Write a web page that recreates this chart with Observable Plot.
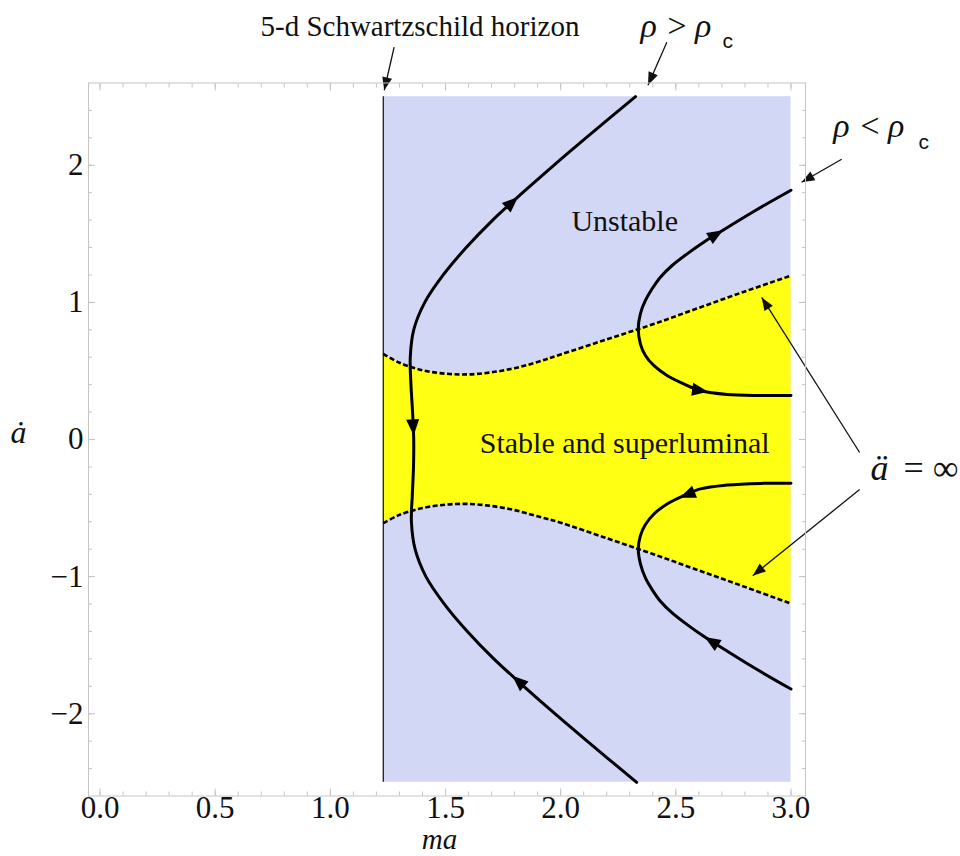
<!DOCTYPE html>
<html>
<head>
<meta charset="utf-8">
<script src="https://cdn.jsdelivr.net/npm/d3@7"></script>
<script src="https://cdn.jsdelivr.net/npm/@observablehq/plot@0.6"></script>
<style>
  body { margin: 0; background: #fff; }
  #chart svg { display: block; }
</style>
</head>
<body>
<div id="chart"></div>
<script>
// Phase-plane region: brane position ma (horizon to 3) against velocity ȧ
const horizonMa = 1.23;
const regionMa = [1.23, 3.0];
const regionAdot = [-2.5, 2.5];

// Boundary where ä diverges (dashed): upper and lower branches
const boundaryMa    = [1.23, 1.3, 1.4, 1.5, 1.6, 1.7, 1.8, 1.9, 2.0, 2.2, 2.4, 2.6, 2.8, 3.0];
const boundaryUpper = [0.625, 0.56, 0.505, 0.48, 0.475, 0.49, 0.52, 0.565, 0.62, 0.73, 0.84, 0.96, 1.08, 1.195];
const boundaryLower = [-0.61, -0.55, -0.5, -0.475, -0.47, -0.485, -0.515, -0.56, -0.607, -0.72, -0.835, -0.955, -1.075, -1.197];

// Trajectory for ρ > ρc (passes close to the horizon)
const superMa   = [2.33, 2.115, 1.975, 1.84, 1.71, 1.595, 1.495, 1.415, 1.368, 1.352, 1.356, 1.361, 1.362, 1.357, 1.35, 1.347, 1.362, 1.41, 1.49, 1.59, 1.705, 1.835, 1.97, 2.11, 2.325];
const superAdot = [-2.5, -2.2, -2.0, -1.8, -1.6, -1.4, -1.2, -1.0, -0.8, -0.6, -0.4, -0.2, 0, 0.2, 0.4, 0.6, 0.8, 1.0, 1.2, 1.4, 1.6, 1.8, 2.0, 2.2, 2.5];

// Trajectories for ρ < ρc (turn back at the ä = ∞ boundary)
const subUpperMa   = [3.0, 2.84, 2.679, 2.621, 2.549, 2.484, 2.433, 2.397, 2.368, 2.346, 2.337, 2.346, 2.368, 2.404, 2.462, 2.534, 2.607, 2.723, 2.868, 3.0];
const subUpperAdot = [1.818, 1.665, 1.5, 1.439, 1.354, 1.269, 1.184, 1.099, 1.014, 0.917, 0.807, 0.698, 0.613, 0.54, 0.467, 0.406, 0.357, 0.328, 0.321, 0.321];
const subLowerMa   = [3.0, 2.87, 2.723, 2.607, 2.534, 2.462, 2.404, 2.368, 2.346, 2.337, 2.346, 2.368, 2.397, 2.433, 2.484, 2.549, 2.621, 2.679, 2.84, 3.0];
const subLowerAdot = [-0.319, -0.32, -0.332, -0.36, -0.41, -0.47, -0.545, -0.62, -0.703, -0.80, -0.905, -1.01, -1.095, -1.18, -1.265, -1.35, -1.435, -1.497, -1.665, -1.82];

// Flow direction heads on the trajectories: tail point → tip point
const flowFromMa   = [1.77, 1.358, 1.835, 2.665, 2.60, 2.56, 2.665];
const flowFromAdot = [1.70, 0.13, -1.79, 1.486, 0.359, -0.395, -1.482];
const flowToMa     = [1.815, 1.362, 1.79, 2.705, 2.64, 2.517, 2.625];
const flowToAdot   = [1.769, 0.03, -1.723, 1.527, 0.349, -0.424, -1.44];

// Annotation pointers: tail point → tip point
const noteFromMa   = [1.277, 2.461, 3.220, 3.298, 3.298];
const noteFromAdot = [2.861, 2.898, 2.044, -0.095, -0.365];
const noteToMa     = [1.234, 2.379, 3.046, 2.873, 2.834];
const noteToAdot   = [2.547, 2.584, 1.876, 1.036, -0.993];

// Axis ticks
const xMajor = [0, 0.5, 1, 1.5, 2, 2.5, 3];
const yMajor = [-2, -1, 0, 1, 2];
const xMinor = d3.range(0, 31).map(i => i / 10);
const yMinor = d3.range(-12, 13).map(i => i / 5);

const serif = "'Liberation Serif', 'Times New Roman', serif";
const blue = "#d2d7f6";
const yellow = "#ffff14";
const frameGray = "#c4c4c4";

const boundary = boundaryMa.map((ma, i) => ({ma, upper: boundaryUpper[i], lower: boundaryLower[i]}));
const pts = (xs, ys) => xs.map((x, i) => ({x, y: ys[i]}));
const segs = (x1, y1, x2, y2) => x1.map((_, i) => ({x1: x1[i], y1: y1[i], x2: x2[i], y2: y2[i]}));
const region = [{x1: regionMa[0], x2: regionMa[1], y1: regionAdot[0], y2: regionAdot[1]}];

// Solid triangular arrowhead with its tip on the end of the path
function solidHead(len, half) {
  return (color) => d3.create("svg:marker")
    .attr("viewBox", `${-len} ${-half} ${len} ${2 * half}`)
    .attr("markerUnits", "userSpaceOnUse")
    .attr("markerWidth", len)
    .attr("markerHeight", 2 * half)
    .attr("refX", 0)
    .attr("refY", 0)
    .attr("orient", "auto")
    .attr("overflow", "visible")
    .call(m => m.append("path")
      .attr("d", `M${-len},${-half}L0,0L${-len},${half}Z`)
      .attr("fill", color)
      .attr("stroke", "none"))
    .node();
}

const fmtX = d => d.toFixed(1);
const fmtY = d => d < 0 ? "\u2212" + Math.abs(d) : String(d);

const labels = [
  {x: 2.278, y: 1.524, text: "Unstable"},
  {x: 2.278, y: -0.095, text: "Stable and superluminal"}
];

const lineStyle = {x: "x", y: "y", stroke: "#000", strokeWidth: 3, curve: "catmull-rom"};
const dashStyle = {stroke: "#000", strokeWidth: 2.6, strokeDasharray: "5,2.5", strokeLinecap: "butt", curve: "catmull-rom"};

const chart = Plot.plot({
  width: 960,
  height: 856,
  marginLeft: 88,
  marginRight: 155,
  marginTop: 82.5,
  marginBottom: 60.5,
  x: {domain: [-0.05, 3.063]},
  y: {domain: [-2.6, 2.6]},
  marks: [
    Plot.rect(region, {x1: "x1", x2: "x2", y1: "y1", y2: "y2", fill: blue}),
    Plot.areaY(boundary, {x: "ma", y1: "lower", y2: "upper", fill: yellow, curve: "catmull-rom"}),
    Plot.ruleX([horizonMa], {y1: regionAdot[0], y2: regionAdot[1], stroke: "#222", strokeWidth: 1.3}),
    Plot.line(boundary, {x: "ma", y: "upper", ...dashStyle}),
    Plot.line(boundary, {x: "ma", y: "lower", ...dashStyle}),
    Plot.line(pts(superMa, superAdot), lineStyle),
    Plot.line(pts(subUpperMa, subUpperAdot), lineStyle),
    Plot.line(pts(subLowerMa, subLowerAdot), lineStyle),
    Plot.link(segs(flowFromMa, flowFromAdot, flowToMa, flowToAdot), {
      x1: "x1", y1: "y1", x2: "x2", y2: "y2",
      stroke: "#000", strokeOpacity: 0, markerEnd: solidHead(16, 6.5)
    }),
    Plot.link(segs(noteFromMa, noteFromAdot, noteToMa, noteToAdot), {
      x1: "x1", y1: "y1", x2: "x2", y2: "y2",
      stroke: "#111", strokeWidth: 1.3, markerEnd: solidHead(13, 5)
    }),
    Plot.text(labels, {x: "x", y: "y", text: "text", fontFamily: serif, fontSize: 30, lineAnchor: "bottom", fill: "#111"}),
    // annotations around the frame
    Plot.text([{x: 1.389, y: 2.946, text: "5-d Schwartzschild horizon"}], {x: "x", y: "y", text: "text", fontFamily: serif, fontSize: 29, lineAnchor: "bottom", fill: "#111"}),
    Plot.text([{x: 2.3465, y: 2.932, text: "\u03c1 >\u2009\u03c1"}, {x: 3.184, y: 2.203, text: "\u03c1 <\u2009\u03c1"}], {x: "x", y: "y", text: "text", fontFamily: serif, fontStyle: "italic", fontSize: 34, textAnchor: "start", lineAnchor: "bottom", fill: "#111"}),
    Plot.text([{x: 2.703, y: 2.852, text: "c"}, {x: 3.554, y: 2.122, text: "c"}], {x: "x", y: "y", text: "text", fontFamily: "'Liberation Sans', sans-serif", fontSize: 21, textAnchor: "start", lineAnchor: "bottom", fill: "#111"}),
    Plot.text([{x: 3.345, y: -0.299, text: "\u00e4"}], {x: "x", y: "y", text: "text", fontFamily: serif, fontStyle: "italic", fontSize: 36, textAnchor: "start", lineAnchor: "bottom", fill: "#111"}),
    Plot.text([{x: 3.488, y: -0.299, text: "= \u221e"}], {x: "x", y: "y", text: "text", fontFamily: serif, fontSize: 36, textAnchor: "start", lineAnchor: "bottom", fill: "#111"}),
    // axis titles
    Plot.text([{x: 1.474, y: -2.99, text: "ma"}], {x: "x", y: "y", text: "text", fontFamily: serif, fontStyle: "italic", fontSize: 29, lineAnchor: "bottom", fill: "#111"}),
    Plot.text([{x: -0.354, y: -0.029, text: "\u0227"}], {x: "x", y: "y", text: "text", fontFamily: serif, fontStyle: "italic", fontSize: 32, lineAnchor: "bottom", fill: "#111"}),
    // frame with inward ticks on every side
    Plot.frame({stroke: frameGray}),
    Plot.axisX(xMinor, {anchor: "bottom", tickSize: -4, fill: "none", stroke: frameGray, label: null}),
    Plot.axisX(xMinor, {anchor: "top", tickSize: -4, fill: "none", stroke: frameGray, label: null}),
    Plot.axisX(xMajor, {anchor: "bottom", tickSize: -7, fill: "none", stroke: frameGray, label: null}),
    Plot.axisX(xMajor, {anchor: "top", tickSize: -7, fill: "none", stroke: frameGray, label: null}),
    Plot.axisY(yMinor, {anchor: "left", tickSize: -4, fill: "none", stroke: frameGray, label: null}),
    Plot.axisY(yMinor, {anchor: "right", tickSize: -4, fill: "none", stroke: frameGray, label: null}),
    Plot.axisY(yMajor, {anchor: "left", tickSize: -7, fill: "none", stroke: frameGray, label: null}),
    Plot.axisY(yMajor, {anchor: "right", tickSize: -7, fill: "none", stroke: frameGray, label: null}),
    Plot.axisX(xMajor, {anchor: "bottom", tickSize: 0, tickPadding: 0, tickFormat: fmtX, fontFamily: serif, fontSize: 31, fill: "#111", label: null}),
    Plot.axisY(yMajor, {anchor: "left", tickSize: 0, tickPadding: 5, tickFormat: fmtY, fontFamily: serif, fontSize: 31, fill: "#111", label: null})
  ]
});

document.getElementById("chart").appendChild(chart);
</script>
</body>
</html>
